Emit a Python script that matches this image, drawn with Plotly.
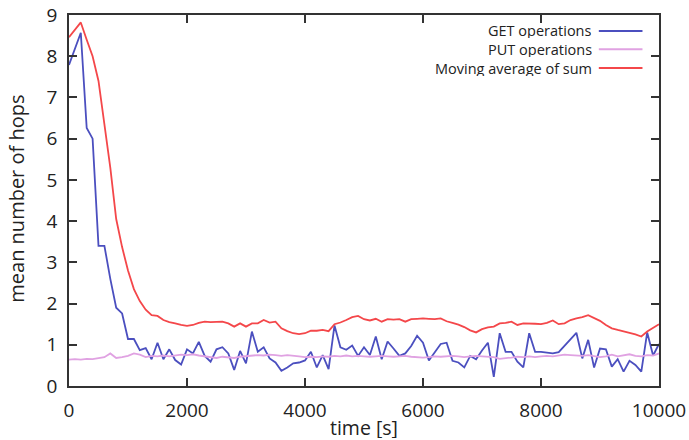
import plotly.graph_objects as go

time_s = list(range(0, 10001, 100))

get_ops = [7.79, 8.18, 8.57, 6.26, 6.00, 3.40, 3.40, 2.60, 1.90, 1.76,
           1.14, 1.14, 0.87, 0.92, 0.65, 1.05, 0.65, 0.89, 0.63, 0.52,
           0.89, 0.79, 1.07, 0.73, 0.59, 0.89, 0.94, 0.79, 0.39, 0.85,
           0.55, 1.32, 0.83, 0.94, 0.67, 0.57, 0.37, 0.45, 0.55, 0.57,
           0.62, 0.83, 0.45, 0.75, 0.41, 1.47, 0.94, 0.88, 0.98, 0.73,
           0.94, 0.75, 1.20, 0.65, 1.08, 0.91, 0.73, 0.79, 0.97, 1.22,
           1.05, 0.62, 0.82, 1.02, 1.05, 0.61, 0.57, 0.45, 0.73, 0.65,
           0.86, 1.05, 0.22, 1.28, 0.83, 0.83, 0.59, 0.45, 1.28, 0.83,
           0.83, 0.81, 0.79, 0.82, 0.97, 1.12, 1.29, 0.67, 1.12, 0.45,
           0.91, 0.89, 0.47, 0.65, 0.35, 0.61, 0.51, 0.35, 1.30, 0.74,
           1.02]

put_ops = [0.64, 0.65, 0.64, 0.66, 0.65, 0.68, 0.70, 0.79, 0.68, 0.70,
           0.73, 0.79, 0.76, 0.70, 0.73, 0.72, 0.74, 0.72, 0.74, 0.76,
           0.75, 0.77, 0.74, 0.72, 0.71, 0.68, 0.71, 0.70, 0.68, 0.71,
           0.72, 0.74, 0.75, 0.74, 0.76, 0.75, 0.73, 0.75, 0.74, 0.72,
           0.70, 0.71, 0.70, 0.72, 0.71, 0.73, 0.72, 0.74, 0.72, 0.73,
           0.72, 0.71, 0.72, 0.73, 0.72, 0.71, 0.72, 0.73, 0.71, 0.70,
           0.69, 0.70, 0.72, 0.71, 0.72, 0.73, 0.72, 0.70, 0.72, 0.73,
           0.72, 0.71, 0.70, 0.66, 0.67, 0.69, 0.71, 0.70, 0.72, 0.70,
           0.72, 0.73, 0.72, 0.74, 0.76, 0.75, 0.74, 0.73, 0.75, 0.72,
           0.70, 0.72, 0.76, 0.72, 0.74, 0.77, 0.73, 0.72, 0.75, 0.74,
           0.79]

moving_avg = [8.46, 8.64, 8.82, 8.40, 8.00, 7.40, 6.40, 5.30, 4.05, 3.37,
              2.80, 2.35, 2.06, 1.85, 1.72, 1.70, 1.60, 1.55, 1.52, 1.48,
              1.46, 1.48, 1.53, 1.56, 1.55, 1.55, 1.56, 1.52, 1.44, 1.52,
              1.44, 1.52, 1.52, 1.60, 1.54, 1.56, 1.40, 1.33, 1.28, 1.26,
              1.28, 1.34, 1.34, 1.36, 1.33, 1.50, 1.54, 1.60, 1.67, 1.70,
              1.62, 1.59, 1.63, 1.56, 1.62, 1.61, 1.62, 1.56, 1.62, 1.63,
              1.64, 1.63, 1.62, 1.64, 1.57, 1.53, 1.49, 1.43, 1.35, 1.30,
              1.38, 1.42, 1.44, 1.52, 1.53, 1.56, 1.48, 1.52, 1.52, 1.51,
              1.50, 1.53, 1.59, 1.50, 1.52, 1.60, 1.64, 1.67, 1.72, 1.65,
              1.58, 1.48, 1.40, 1.36, 1.33, 1.29, 1.25, 1.20, 1.32, 1.40,
              1.50]

series_names = ["GET operations", "PUT operations", "Moving average of sum"]
series_colors = ["#4b4fbf", "#e0a2e2", "#f4474a"]
x_ticks = [0, 2000, 4000, 6000, 8000, 10000]
x_tick_labels = ["0", "2000", "4000", "6000", "8000", "10000"]
y_ticks = list(range(0, 10))
x_title = "time [s]"
y_title = "mean number of hops"

FONT = "Open Sans"
fig = go.Figure()
for name, vals, col in zip(series_names, [get_ops, put_ops, moving_avg], series_colors):
    fig.add_trace(go.Scatter(x=time_s, y=vals, mode="lines", name=name,
                             line=dict(color=col, width=1.8), showlegend=False))

# gnuplot-style legend: right-aligned text with the line sample on the right
leg_y = [0.957, 0.908, 0.857]
for name, col, yy in zip(series_names, series_colors, leg_y):
    fig.add_annotation(xref="paper", yref="paper", x=0.888, y=yy, text=name,
                       showarrow=False, xanchor="right", yanchor="middle",
                       height=15, borderpad=0,
                       font=dict(family=FONT, size=14.5, color="#222"))
    fig.add_shape(type="line", xref="paper", yref="paper",
                  x0=0.898, x1=0.972, y0=yy, y1=yy,
                  line=dict(color=col, width=2))

# axis titles
fig.add_annotation(xref="paper", yref="paper", x=0.5, y=-0.1105, text=x_title,
                   showarrow=False, xanchor="center", yanchor="middle",
                   height=22, borderpad=0,
                   font=dict(family=FONT, size=19.5, color="#222"))
fig.add_annotation(xref="paper", yref="paper", x=-0.088, y=0.505, text=y_title,
                   showarrow=False, xanchor="center", yanchor="middle", textangle=-90,
                   font=dict(family=FONT, size=20, color="#222"))

axis_common = dict(showline=True, linecolor="#333", linewidth=1.5, mirror="allticks",
                   ticks="inside", ticklen=8, tickwidth=1.5, tickcolor="#333",
                   showgrid=False, zeroline=False, ticklabelstandoff=6, automargin=False,
                   tickfont=dict(family=FONT, size=19, color="#222"))
fig.update_xaxes(range=[0, 10000], tickvals=x_ticks, ticktext=x_tick_labels, **axis_common)
fig.update_yaxes(range=[0, 9], tickvals=y_ticks, **axis_common)

fig.update_layout(width=689, height=440, margin=dict(l=69, r=30, t=15, b=54, autoexpand=False),
                  plot_bgcolor="white", paper_bgcolor="white")
fig.write_html("out.html")
